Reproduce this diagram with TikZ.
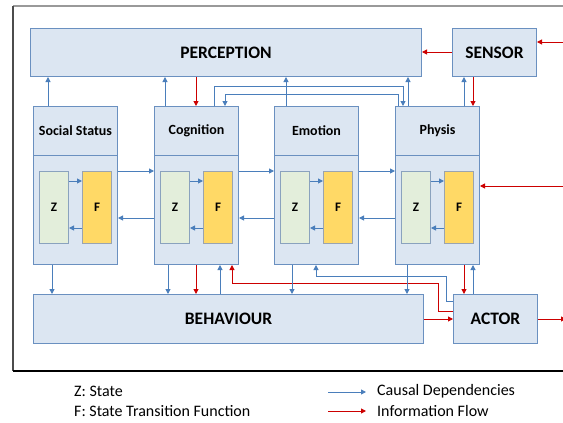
\documentclass[tikz,border=0pt]{standalone}
\usepackage{fontspec}
\setmainfont{Carlito}
\usetikzlibrary{arrows.meta}
\definecolor{boxfill}{HTML}{DCE6F2}
\definecolor{boxline}{HTML}{6A90C0}
\definecolor{zfill}{HTML}{E3EEDB}
\definecolor{zline}{HTML}{8AA2BE}
\definecolor{ffill}{HTML}{FFD966}
\definecolor{fline}{HTML}{9AA4B0}
\definecolor{cdblue}{HTML}{4A7EBB}
\definecolor{ifred}{HTML}{CC0000}
\begin{document}
\begin{tikzpicture}[x=1pt,y=-1pt,
  box/.style={draw=boxline,fill=boxfill,line width=1pt,inner sep=0pt,anchor=north west},
  bigfont/.style={font=\bfseries\fontsize{17.5}{20}\selectfont},
  headfont/.style={font=\bfseries\fontsize{14}{16}\selectfont},
  zbox/.style={draw=zline,fill=zfill,line width=1pt,inner sep=0pt,anchor=north west,
    minimum width=29pt,minimum height=72pt,font=\bfseries\fontsize{13}{15}\selectfont},
  fbox/.style={draw=fline,fill=ffill,line width=1pt,inner sep=0pt,anchor=north west,
    minimum width=29pt,minimum height=72pt,font=\bfseries\fontsize{13}{15}\selectfont},
  cd/.style={draw=cdblue,line width=1pt,-{Triangle[length=5pt,width=5pt]}},
  if/.style={draw=ifred,line width=1pt,-{Triangle[length=5pt,width=5pt]}},
  legtext/.style={anchor=west,inner sep=0pt,font=\fontsize{16}{19}\selectfont}
]
\useasboundingbox (0,0) rectangle (563,423);

% outer frame
\draw[draw=gray!80,line width=1.2pt] (13,6) -- (570,6);
\draw[draw=black!70,line width=1.4pt] (13,6) -- (13,371);
\draw[draw=black,line width=1.2pt] (13,371) -- (570,371);

% main boxes
\node[box,bigfont,minimum width=391pt,minimum height=48pt] (perc) at (30,28) {PERCEPTION};
\node[box,bigfont,minimum width=84pt,minimum height=48pt] (sens) at (452,28) {SENSOR};
\node[box,bigfont,minimum width=390pt,minimum height=49pt] (beh) at (33,294) {BEHAVIOUR};
\node[box,bigfont,minimum width=84pt,minimum height=49pt] (act) at (453,294) {ACTOR};

% columns
\foreach \n/\t/\x in {soc/Social Status/33, cog/Cognition/154, emo/Emotion/274, phy/Physis/395} {
  \node[box,headfont,minimum width=84pt,minimum height=49pt] (\n h) at (\x,106) {\t};
  \node[box,minimum width=84pt,minimum height=109pt] (\n b) at (\x,155) {};
  \node[zbox] (\n z) at (\x+6,171) {Z};
  \node[fbox] (\n f) at (\x+49,171) {F};
  \draw[cd] (\n z.east |- 0,181) -- (\n f.west |- 0,181);
  \draw[cd] (\n f.west |- 0,228) -- (\n z.east |- 0,228);
}

% between columns
\draw[cd] (socb.east |- 0,171) -- (cogb.west |- 0,171);
\draw[cd] (cogb.west |- 0,218) -- (socb.east |- 0,218);
\draw[cd] (cogb.east |- 0,171) -- (emob.west |- 0,171);
\draw[cd] (emob.west |- 0,218) -- (cogb.east |- 0,218);
\draw[cd] (emob.east |- 0,171) -- (phyb.west |- 0,171);
\draw[cd] (phyb.west |- 0,218) -- (emob.east |- 0,218);

% top connectors
\draw[cd] (soch.north -| 48,0) -- (perc.south -| 48,0);
\draw[cd] (cogh.north -| 165,0) -- (perc.south -| 165,0);
\draw[if] (perc.south -| 196,0) -- (cogh.north -| 196,0);
\draw[cd] (cogh.north -| 214,0) -- (214,86) -- (403,86) -- (phyh.north -| 403,0);
\draw[cd] (phyh.north -| 398,0) -- (398,94) -- (225,94) -- (cogh.north -| 225,0);
\draw[cd] (emoh.north -| 286,0) -- (perc.south -| 286,0);
\draw[cd] (phyh.north -| 408,0) -- (perc.south -| 408,0);
\draw[cd] (phyh.north -| 464,0) -- (sens.south -| 464,0);
\draw[if] (sens.south -| 473,0) -- (phyh.north -| 473,0);
\draw[if] (sens.west |- 0,52) -- (perc.east |- 0,52);
\coordinate (inS) at (570,42);
\coordinate (inP) at (570,186);
\draw[if] (inS) -- (sens.east |- inS);
\draw[if] (inP) -- (phyb.east |- inP);

% bottom connectors
\draw[cd] (socb.south -| 52,0) -- (beh.north -| 52,0);
\draw[cd] (cogb.south -| 168,0) -- (beh.north -| 168,0);
\draw[if] (cogb.south -| 196,0) -- (beh.north -| 196,0);
\draw[cd] (beh.north -| 220,0) -- (cogb.south -| 220,0);
\draw[if] (act.west |- 0,311) -- (438,311) -- (438,283) -- (232,283) -- (cogb.south -| 232,0);
\draw[cd] (emob.south -| 292,0) -- (beh.north -| 292,0);
\draw[cd] (act.west |- 0,301) -- (446,301) -- (446,276) -- (316,276) -- (emob.south -| 316,0);
\draw[cd] (phyb.south -| 407,0) -- (beh.north -| 407,0);
\draw[if] (phyb.south -| 464,0) -- (act.north -| 464,0);
\draw[cd] (act.north -| 473,0) -- (phyb.south -| 473,0);
\draw[if] (beh.east |- 0,319) -- (act.west |- 0,319);
\coordinate (out) at (566,319);
\draw[if] (act.east |- out) -- (out);

% legend
\node[legtext] (lz) at (74,391) {Z: State};
\node[legtext] (lf) at (74,411) {F: State Transition Function};
\node[legtext] (lcd) at (377,391) {Causal Dependencies};
\node[legtext] (lif) at (377,411) {Information Flow};
\coordinate (lcs) at (328,392);
\coordinate (lis) at (328,411);
\draw[cd] (lcs) -- (lcs -| 366,0);
\draw[if] (lis) -- (lis -| 366,0);
\end{tikzpicture}
\end{document}
